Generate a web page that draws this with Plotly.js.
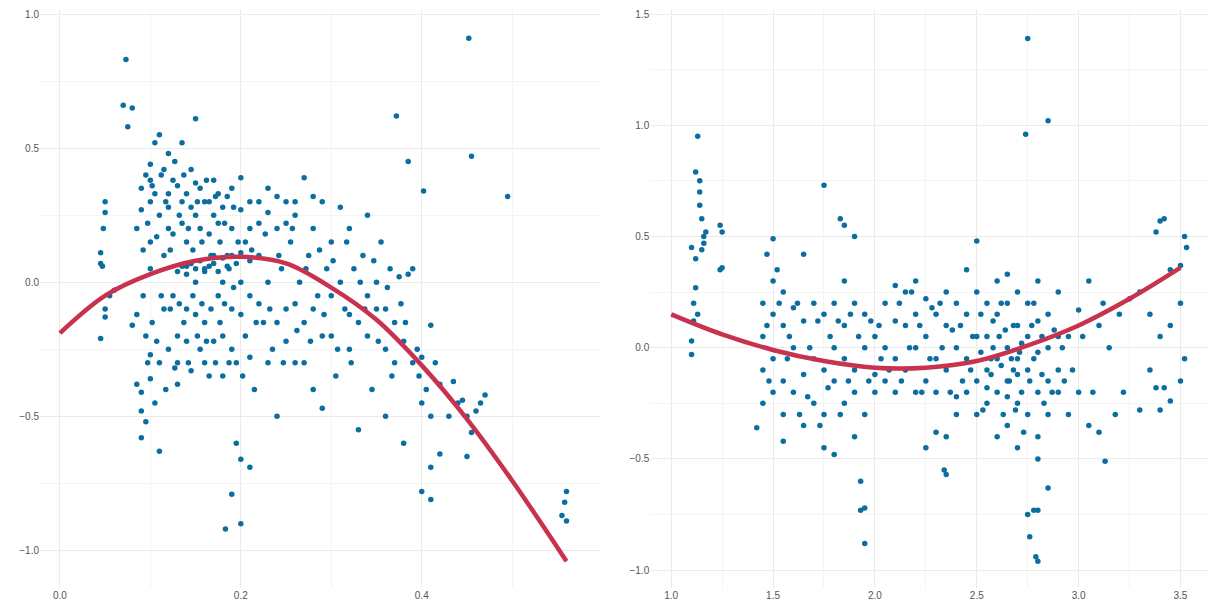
<!DOCTYPE html>
<html>
<head>
<meta charset="utf-8">
<script src="https://cdn.plot.ly/plotly-3.0.1.min.js"></script>
<style>html,body{margin:0;padding:0;background:#fff}#chart{width:1211px;height:608px}</style>
</head>
<body>
<div id="chart"></div>
<script>
// Left panel points [x, y]
const leftPoints = [
  [0.073,0.83],[0.07,0.66],[0.08,0.65],[0.075,0.58],[0.452,0.91],[0.455,0.47],[0.495,0.32],
  [0.372,0.62],[0.385,0.45],[0.402,0.34],[0.56,-0.78],[0.56,-0.89],[0.555,-0.87],[0.558,-0.82],
  [0.183,-0.92],[0.2,-0.9],[0.19,-0.79],[0.195,-0.6],[0.2,-0.66],[0.21,-0.69],
  [0.4,-0.78],[0.41,-0.81],[0.42,-0.64],[0.41,-0.69],[0.45,-0.65],
  [0.05,0.3],[0.05,0.26],[0.048,0.2],[0.045,0.11],[0.045,0.07],[0.047,0.06],[0.045,-0.21],
  [0.05,-0.1],[0.05,-0.13],[0.055,-0.05],[0.06,-0.03],
  [0.085,0.2],[0.09,0.27],[0.09,0.35],[0.095,0.4],[0.1,0.44],[0.1,0.3],[0.085,-0.38],[0.09,-0.41],
  [0.09,-0.48],[0.095,-0.52],[0.09,-0.58],[0.1,-0.36],[0.1,-0.27],[0.095,-0.2],[0.085,-0.12],
  [0.08,-0.16],[0.1,0.05],[0.1,0.15],[0.105,0.52],[0.11,0.55],[0.105,-0.45],[0.11,-0.63],
  [0.11,-0.3],[0.115,-0.1],[0.115,0.1],[0.12,0.2],[0.12,0.33],[0.12,0.48],[0.125,0.38],
  [0.125,-0.05],[0.13,-0.2],[0.13,-0.38],[0.135,0.52],[0.135,0.3],[0.14,0.15],[0.14,0.06],
  [0.14,-0.1],[0.145,-0.33],[0.145,0.42],[0.15,0.61],[0.15,0.25],[0.15,0.0],[0.155,-0.25],
  [0.155,0.35],[0.16,0.05],[0.16,-0.15],[0.165,0.3],[0.165,-0.35],[0.17,0.1],[0.17,0.38],
  [0.175,-0.05],[0.175,0.22],[0.18,0.0],[0.18,-0.2],[0.185,0.32],[0.185,0.1],[0.19,-0.1],
  [0.19,0.2],[0.195,-0.3],[0.2,0.39],[0.2,0.0],[0.205,0.15],[0.205,-0.2],[0.21,0.3],[0.21,-0.05],
  [0.215,-0.4],[0.22,0.1],[0.22,0.22],[0.225,-0.15],[0.23,0.35],[0.23,0.0],[0.235,-0.25],
  [0.24,0.2],[0.24,-0.5],[0.245,0.05],[0.25,0.3],[0.25,-0.1],[0.255,0.15],[0.26,-0.3],
  [0.26,0.25],[0.265,0.0],[0.27,-0.15],[0.27,0.39],[0.275,0.1],[0.28,-0.4],[0.28,0.2],
  [0.285,-0.05],[0.29,-0.47],[0.29,0.3],[0.295,0.05],[0.3,-0.2],[0.3,0.15],[0.305,-0.35],
  [0.31,0.0],[0.31,0.28],[0.315,-0.1],[0.32,0.2],[0.32,-0.25],[0.325,0.05],[0.33,-0.15],
  [0.33,-0.55],[0.335,0.1],[0.34,-0.2],[0.34,0.25],[0.345,-0.4],[0.35,0.0],[0.35,-0.1],
  [0.355,0.15],[0.36,-0.25],[0.36,-0.5],[0.365,0.05],[0.37,-0.15],[0.37,-0.3],[0.375,0.02],
  [0.38,-0.22],[0.38,-0.6],[0.385,0.03],[0.39,0.05],[0.39,-0.3],[0.395,-0.25],[0.4,-0.45],
  [0.4,-0.28],[0.405,-0.4],[0.41,-0.16],[0.41,-0.5],[0.415,-0.3],[0.42,-0.38],[0.43,-0.5],
  [0.435,-0.37],[0.44,-0.45],[0.445,-0.44],[0.45,-0.5],[0.455,-0.56],[0.46,-0.48],
  [0.465,-0.45],[0.47,-0.42],
  [0.13,0.04],[0.135,0.06],[0.14,0.03],[0.145,0.07],[0.15,0.05],[0.155,0.08],[0.16,0.04],
  [0.165,0.06],[0.17,0.07],[0.175,0.04],[0.18,0.09],[0.185,0.06],[0.19,0.1],[0.195,0.07],
  [0.2,0.11],[0.21,0.08],
  [0.1,0.38],[0.105,0.33],[0.11,0.25],[0.115,0.42],[0.12,0.28],[0.125,0.18],[0.13,0.36],
  [0.135,0.22],[0.14,0.33],[0.145,0.28],[0.15,0.37],[0.155,0.2],[0.16,0.3],[0.165,0.18],
  [0.17,0.25],[0.175,0.33],[0.18,0.28],[0.19,0.35],[0.2,0.27],[0.21,0.2],[0.22,0.3],
  [0.23,0.26],[0.24,0.32],[0.25,0.22],[0.26,0.3],[0.28,0.32],
  [0.12,-0.25],[0.13,-0.3],[0.14,-0.22],[0.15,-0.12],[0.16,-0.3],[0.17,-0.22],[0.18,-0.35],
  [0.19,-0.25],[0.2,-0.12],[0.21,-0.28],[0.22,-0.08],[0.23,-0.3],[0.24,-0.15],[0.25,-0.22],
  [0.26,-0.08],[0.27,-0.3],[0.28,-0.1],[0.29,-0.2],[0.3,-0.05],[0.32,-0.12],[0.34,-0.05],
  [0.36,-0.1],
  [0.092,0.12],[0.097,0.22],[0.102,0.36],[0.107,0.17],[0.112,0.4],[0.117,0.3],[0.122,0.12],
  [0.127,0.45],[0.132,0.25],[0.137,0.4],[0.142,0.2],[0.147,0.12],[0.152,0.3],[0.157,0.15],
  [0.162,0.38],[0.167,0.1],[0.172,0.32],[0.177,0.15],[0.182,0.22],[0.187,0.05],[0.192,0.28],
  [0.197,0.15],[0.212,0.12],[0.227,0.18],[0.242,0.1],[0.257,0.2],[0.272,0.05],[0.287,0.12],
  [0.092,-0.05],[0.097,-0.3],[0.102,-0.15],[0.107,-0.22],[0.112,-0.05],[0.117,-0.4],[0.122,-0.1],
  [0.127,-0.32],[0.132,-0.08],[0.137,-0.15],[0.142,-0.3],[0.147,-0.05],[0.152,-0.2],[0.157,-0.08],
  [0.162,-0.22],[0.167,-0.1],[0.172,-0.3],[0.177,-0.15],[0.182,-0.08],[0.187,-0.3],[0.192,-0.02],
  [0.202,-0.35],[0.217,-0.15],[0.232,-0.1],[0.247,-0.3],[0.262,-0.18],[0.277,-0.22],[0.292,-0.12],
  [0.307,-0.25],[0.322,-0.3],[0.337,-0.1],[0.352,-0.22],[0.367,-0.35],[0.382,-0.15],[0.397,-0.35],
  [0.302,0.08],[0.317,0.15],[0.332,0.0],[0.347,0.08],[0.362,-0.02],[0.377,-0.08]
];

// Left fitted curve
const leftCurveX = [0, 0.05, 0.1, 0.15, 0.2, 0.25, 0.3, 0.35, 0.4, 0.45, 0.5, 0.56];
const leftCurveY = [-0.19, -0.05, 0.03, 0.08, 0.095, 0.07, -0.02, -0.14, -0.31, -0.51, -0.74, -1.04];

// Right panel points [x, y]
const rightPoints = [
  [1.1,0.45],[1.12,0.4],[1.12,0.79],[1.13,0.95],[1.14,0.75],[1.14,0.7],[1.15,0.58],[1.16,0.5],
  [1.17,0.52],[1.16,0.47],[1.12,0.27],[1.11,0.2],[1.13,0.15],[1.1,0.03],[1.1,-0.03],[1.11,0.12],
  [1.14,0.64],[1.24,0.55],[1.25,0.52],[1.24,0.35],[1.25,0.36],[1.15,0.44],
  [2.75,1.39],[2.85,1.02],[2.74,0.96],[1.75,0.73],[1.85,0.55],[1.9,0.5],[1.83,0.58],
  [2.8,-0.96],[2.79,-0.94],[2.76,-0.85],[2.78,-0.73],[2.8,-0.73],[2.75,-0.75],[1.95,-0.88],
  [1.93,-0.6],[1.95,-0.72],[1.93,-0.73],[2.35,-0.57],[2.34,-0.55],[2.85,-0.63],[2.8,-0.5],
  [3.13,-0.51],[1.42,-0.36],[1.55,-0.42],[1.5,0.49],[1.47,0.42],
  [3.38,0.52],[3.4,0.57],[3.42,0.58],[3.45,0.35],[3.5,0.37],[3.52,0.5],[3.53,0.45],[3.5,0.2],
  [3.45,0.1],[3.4,0.05],[3.35,-0.1],[3.38,-0.18],[3.42,-0.18],[3.45,-0.24],[3.4,-0.28],
  [3.3,-0.28],[3.5,-0.15],[3.52,-0.05],[3.35,0.15],[3.3,0.25],[3.25,0.22],[3.2,0.15],
  [3.22,-0.2],[3.18,-0.3],[3.1,-0.38],[3.05,-0.35],[3.15,0.0],[3.1,0.1],[3.05,0.3],[3.0,0.17],
  [3.0,-0.2],[2.95,-0.3],[2.95,0.05],
  [2.52,-0.02],[2.58,0.0],[2.62,-0.08],[2.68,-0.1],[2.72,0.02],[2.78,-0.05],[2.82,-0.12],
  [2.55,-0.18],[2.65,-0.22],[2.7,-0.12],
  [1.47,0.1],[1.52,0.35],[1.57,-0.05],[1.62,0.2],[1.67,-0.22],[1.72,0.12],[1.77,-0.18],
  [1.82,0.12],[1.87,-0.15],[1.92,0.05],[1.97,-0.15],[2.02,0.1],[2.07,-0.1],[2.12,0.2],
  [2.17,0.0],[2.22,0.1],[2.27,-0.05],[2.32,0.2],[2.37,-0.2],[2.42,0.1],[2.47,-0.1],
  [2.52,0.15],[2.57,-0.05],[2.62,0.2],[2.67,-0.05],[2.72,-0.2],[2.77,0.1],[2.82,0.05],
  [2.87,-0.2],[2.92,0.0],[2.97,-0.1],[3.02,0.05],[3.07,-0.2],[3.12,0.2],
  [1.48,-0.15],[1.53,0.2],[1.58,0.05],[1.63,-0.3],[1.68,0.0],[1.73,-0.35],[1.78,0.05],
  [1.83,-0.3],[1.88,0.15],[1.98,0.12],[2.03,-0.05],[2.13,-0.15],[2.18,0.25],[2.23,-0.2],
  [2.28,0.18],[2.33,0.0],[2.38,0.08],[2.43,-0.15],[2.48,0.05],[2.53,-0.28],[2.58,0.12],
  [2.63,-0.3],[2.68,0.1],[2.73,-0.38],[2.78,0.2],[2.83,-0.25],[2.88,0.08],[2.93,-0.15],
  [2.57,-0.12],[2.61,0.05],[2.66,-0.15],[2.71,-0.02],[2.76,-0.15],[2.64,0.08],[2.69,-0.28]
];

// Right body, read column by column: [x, [y values]]
const rightColumns = [
  [1.45,[0.2,0.05,-0.1,-0.25]],[1.5,[0.3,0.15,-0.05,-0.2]],[1.55,[0.25,0.1,-0.15,-0.3]],
  [1.6,[0.18,0.0,-0.2]],[1.65,[0.42,0.12,-0.12,-0.35]],[1.7,[0.2,-0.05,-0.25]],
  [1.75,[0.15,-0.1,-0.3,-0.45]],[1.8,[0.2,0.0,-0.15,-0.48]],[1.85,[0.3,0.1,-0.05,-0.25]],
  [1.9,[0.2,-0.1,-0.2,-0.4]],[1.95,[0.15,0.0,-0.3]],[2.0,[0.05,-0.12,-0.2]],
  [2.05,[0.2,0.0,-0.15]],[2.1,[0.28,0.12,-0.05,-0.2]],[2.15,[0.25,0.1,-0.1]],
  [2.2,[0.3,0.15,0.0,-0.2]],[2.25,[0.22,0.05,-0.15,-0.45]],[2.3,[0.15,-0.05,-0.2,-0.38]],
  [2.35,[0.25,0.1,-0.1,-0.4]],[2.4,[0.2,0.0,-0.22,-0.3]],[2.45,[0.35,0.15,-0.05,-0.2]],
  [2.5,[0.48,0.25,0.05,-0.15,-0.3]],[2.55,[0.2,0.05,-0.1,-0.25]],[2.6,[0.3,0.15,-0.05,-0.2,-0.4]],
  [2.65,[0.33,0.2,0.0,-0.15,-0.35]],[2.7,[0.25,0.1,-0.05,-0.25,-0.45]],[2.75,[0.2,0.05,-0.1,-0.3]],
  [2.8,[0.3,0.12,-0.02,-0.2,-0.4]],[2.85,[0.15,0.0,-0.15,-0.3]],[2.9,[0.25,0.05,-0.1,-0.2]]
];
rightColumns.forEach(([x, ys]) => ys.forEach(y => rightPoints.push([x, y])));

// Right fitted curve
const rightCurveX = [1.0, 1.25, 1.5, 1.75, 2.0, 2.25, 2.5, 2.75, 3.0, 3.25, 3.5];
const rightCurveY = [0.15, 0.06, -0.01, -0.06, -0.09, -0.09, -0.06, 0.01, 0.1, 0.22, 0.36];

const pointColor = '#0b6e9f';
const curveColor = '#c8324f';
const marker = { color: pointColor, size: 5.5 };

const data = [
  { type: 'scatter', mode: 'markers', x: leftPoints.map(p => p[0]), y: leftPoints.map(p => p[1]),
    marker: marker, xaxis: 'x', yaxis: 'y', hoverinfo: 'x+y' },
  { type: 'scatter', mode: 'lines', x: leftCurveX, y: leftCurveY, line: { color: curveColor, width: 4.5, shape: 'spline' },
    xaxis: 'x', yaxis: 'y' },
  { type: 'scatter', mode: 'markers', x: rightPoints.map(p => p[0]), y: rightPoints.map(p => p[1]),
    marker: marker, xaxis: 'x2', yaxis: 'y2', hoverinfo: 'x+y' },
  { type: 'scatter', mode: 'lines', x: rightCurveX, y: rightCurveY, line: { color: curveColor, width: 4.5, shape: 'spline' },
    xaxis: 'x2', yaxis: 'y2' }
];

const axisBase = {
  showgrid: true, gridcolor: '#ebebeb', gridwidth: 1, zeroline: false, showline: false,
  ticks: '', tickfont: { size: 10, color: '#555', family: 'Liberation Sans, Arial, sans-serif' }
};

const layout = {
  width: 1211, height: 608,
  margin: { l: 40, r: 2, t: 10, b: 20 },
  paper_bgcolor: '#fff', plot_bgcolor: '#fff',
  showlegend: false,
  xaxis: { ...axisBase, domain: [0, 0.479], range: [-0.022, 0.597], dtick: 0.2, tickformat: '.1f',
    minor: { dtick: 0.1, showgrid: true, gridcolor: '#f4f4f4' } },
  yaxis: { ...axisBase, range: [-1.14, 1.015], dtick: 0.5, tickformat: '.1f',
    minor: { dtick: 0.25, showgrid: true, gridcolor: '#f4f4f4' } },
  xaxis2: { ...axisBase, domain: [0.522, 1], range: [0.897, 3.64], dtick: 0.5, tickformat: '.1f', anchor: 'y2',
    minor: { dtick: 0.25, showgrid: true, gridcolor: '#f4f4f4' } },
  yaxis2: { ...axisBase, range: [-1.08, 1.518], dtick: 0.5, tickformat: '.1f', anchor: 'x2',
    minor: { dtick: 0.25, showgrid: true, gridcolor: '#f4f4f4' } }
};

Plotly.newPlot('chart', data, layout, { displayModeBar: false });
</script>
</body>
</html>
